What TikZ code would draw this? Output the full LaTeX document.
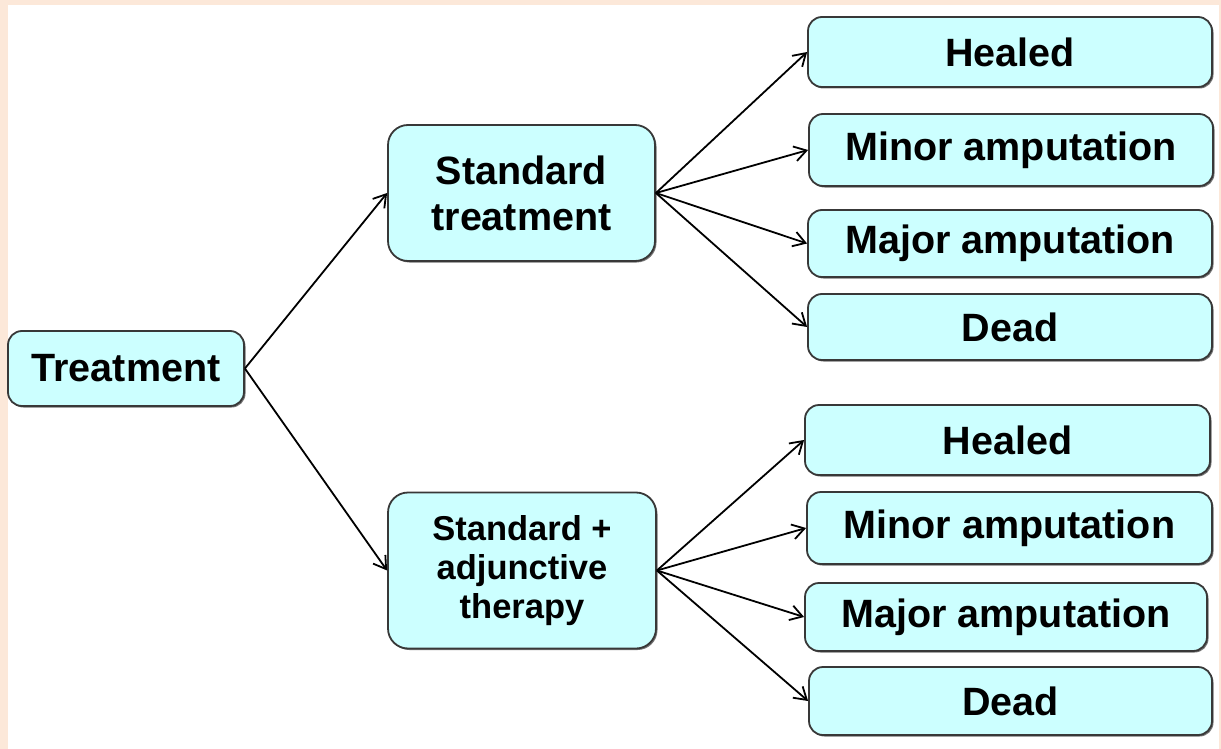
\documentclass[tikz,border=0pt]{standalone}
\usepackage{fontspec}
\setmainfont{Liberation Sans}
\usetikzlibrary{arrows.meta,shadows}
\definecolor{BoxClr}{rgb}{0.8,1,1}
\definecolor{EdgeClr}{rgb}{0.22,0.22,0.22}
\definecolor{PageClr}{rgb}{0.99,0.91,0.85}

\begin{document}
\begin{tikzpicture}[x=1pt,y=-1pt,
  box/.style={draw=EdgeClr,fill=BoxClr,line width=1.8pt,rounded corners=14pt,
    inner sep=0pt,align=center,
    drop shadow={shadow xshift=1.5pt,shadow yshift=-1.5pt,fill=black!55,opacity=1},
    font=\bfseries\fontsize{39.5}{46}\selectfont},
  outcome/.style={box,minimum width=404pt},
  link/.style={line width=1.8pt,-{Straight Barb[length=12pt,width=15pt,line width=1.8pt]}}]

\fill[PageClr] (0,0) rectangle (1221,749);
\fill[white] (8,5) rectangle (1219,749);
\useasboundingbox (0,0) rectangle (1221,749);

\node[box,minimum width=236pt,minimum height=75pt] (treat) at (126,368.5) {Treatment};
\node[box,rounded corners=20pt,minimum width=267pt,minimum height=136pt] (std) at (521.5,193) {Standard\\treatment};
\node[box,rounded corners=20pt,minimum width=268pt,minimum height=156pt,
  font=\bfseries\fontsize{34.5}{39}\selectfont] (adj) at (522,570.5) {Standard +\\adjunctive\\therapy};

\node[outcome,minimum height=70pt] (healA) at (1010,52) {Healed};
\node[outcome,minimum height=72pt] (minorA) at (1011,150) {Minor amputation};
\node[outcome,minimum height=67pt] (majorA) at (1010,243.5) {Major amputation};
\node[outcome,minimum height=66pt] (deadA) at (1010,327) {Dead};

\node[outcome,minimum width=405pt,minimum height=70pt] (healB) at (1007.5,440) {Healed};
\node[outcome,minimum width=405pt,minimum height=72pt] (minorB) at (1009.5,528) {Minor amputation};
\node[outcome,minimum width=402pt,minimum height=68pt] (majorB) at (1006,617) {Major amputation};
\node[outcome,minimum width=403pt,minimum height=68pt] (deadB) at (1010.5,701) {Dead};

\draw[link] (treat.east) -- (std.west);
\draw[link] (treat.east) -- (adj.west);

\foreach \n in {healA,minorA,majorA,deadA}
  \draw[link] (std.east) -- (\n.west);
\foreach \n in {healB,minorB,majorB,deadB}
  \draw[link] (adj.east) -- (\n.west);

\end{tikzpicture}
\end{document}
